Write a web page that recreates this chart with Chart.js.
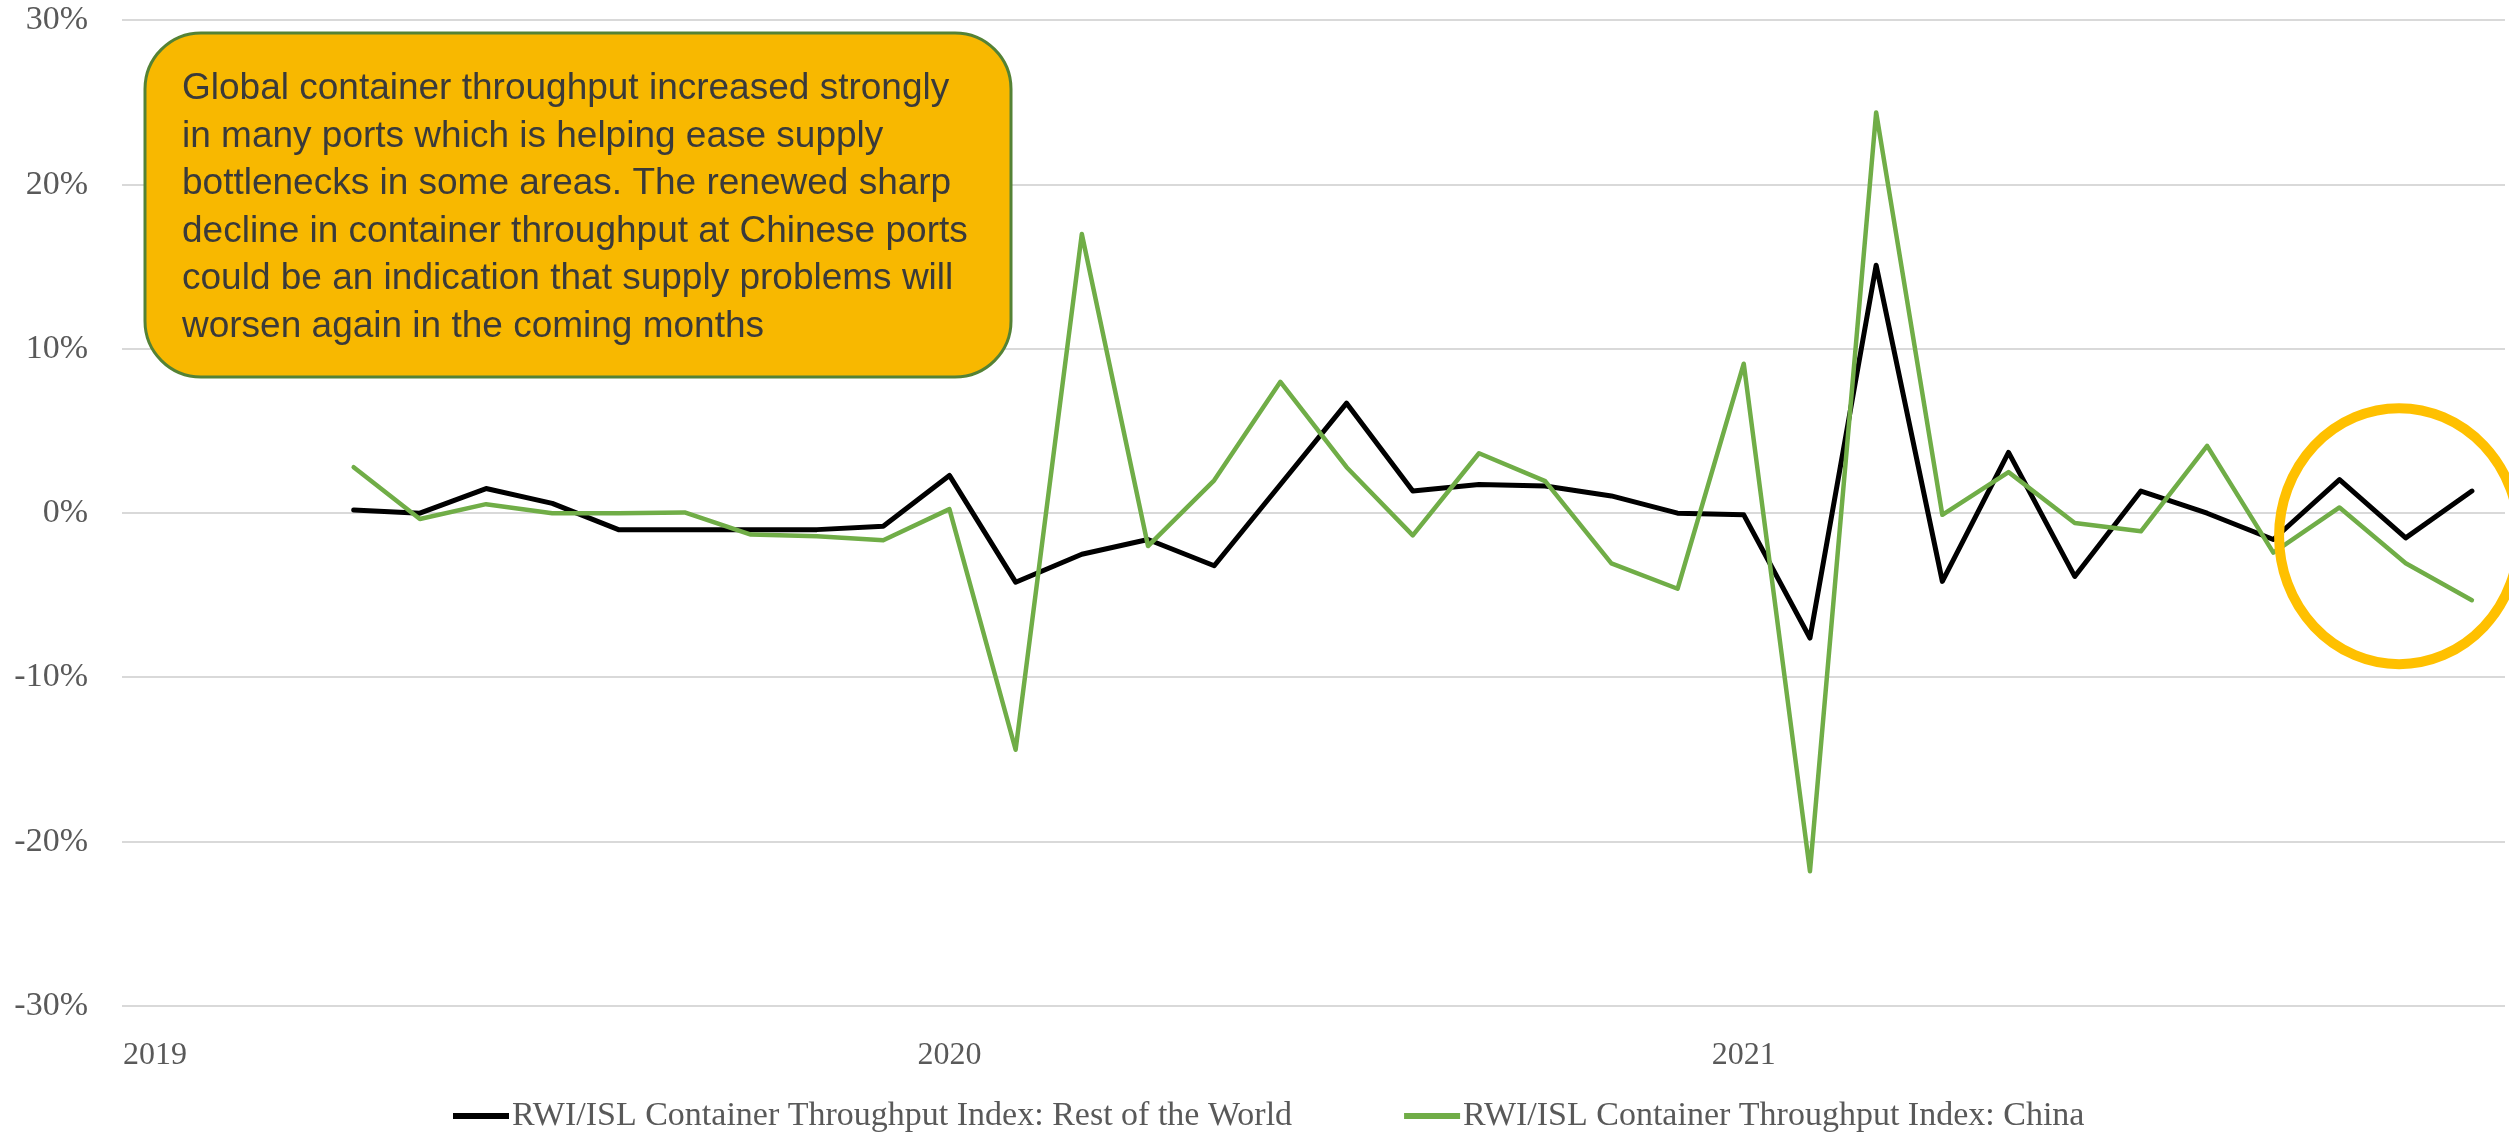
<!DOCTYPE html>
<html>
<head>
<meta charset="utf-8">
<script src="https://cdn.jsdelivr.net/npm/chart.js@4.4.0/dist/chart.umd.min.js"></script>
<style>
    html, body { margin: 0; padding: 0; background: #ffffff; overflow: hidden; }
    #wrap { width: 2509px; height: 1134px; }
</style>
</head>
<body>
<div id="wrap"><canvas id="throughputChart" width="2509" height="1134"></canvas></div>
<script>
// Monthly categories, Jan 2019 - Dec 2021
const months = [
    'Jan 2019', 'Feb 2019', 'Mar 2019', 'Apr 2019', 'May 2019', 'Jun 2019',
    'Jul 2019', 'Aug 2019', 'Sep 2019', 'Oct 2019', 'Nov 2019', 'Dec 2019',
    'Jan 2020', 'Feb 2020', 'Mar 2020', 'Apr 2020', 'May 2020', 'Jun 2020',
    'Jul 2020', 'Aug 2020', 'Sep 2020', 'Oct 2020', 'Nov 2020', 'Dec 2020',
    'Jan 2021', 'Feb 2021', 'Mar 2021', 'Apr 2021', 'May 2021', 'Jun 2021',
    'Jul 2021', 'Aug 2021', 'Sep 2021', 'Oct 2021', 'Nov 2021', 'Dec 2021'
];
const yearTicks = ['2019', '2020', '2021'];

// Month-on-month change, %
const restOfWorld = [
    null, null, null, 0.2, 0.0, 1.5, 0.6, -1.0, -1.0, -1.0, -1.0, -0.8,
    2.3, -4.2, -2.5, -1.6, -3.2, 1.75, 6.7, 1.35, 1.75, 1.65, 1.05, 0.0,
    -0.1, -7.6, 15.1, -4.15, 3.7, -3.85, 1.35, 0.0, -1.6, 2.05, -1.5, 1.35
];
const china = [
    null, null, null, 2.8, -0.35, 0.55, 0.0, 0.0, 0.05, -1.3, -1.4, -1.65,
    0.25, -14.4, 17.0, -2.0, 2.0, 8.0, 2.8, -1.35, 3.65, 1.95, -3.05, -4.6,
    9.1, -21.8, 24.4, -0.1, 2.5, -0.6, -1.1, 4.1, -2.4, 0.35, -3.05, -5.3
];

const seriesNames = [
    'RWI/ISL Container Throughput Index: Rest of the World',
    'RWI/ISL Container Throughput Index: China'
];

const noteLines = [
    'Global container throughput increased strongly',
    'in many ports which is helping ease supply',
    'bottlenecks in some areas. The renewed sharp',
    'decline in container throughput at Chinese ports',
    'could be an indication that supply problems will',
    'worsen again in the coming months'
];

const serif = 'Liberation Serif, Times New Roman, serif';
const sans = 'Liberation Sans, Arial, sans-serif';
const axisGrey = '#595959';

// note box, highlight ring and legend drawn on top of the chart
const overlayPlugin = {
    id: 'overlay',
    afterDraw(chart) {
        const ctx = chart.ctx;
        const xs = chart.scales.x, ys = chart.scales.y;

        // rounded note box
        ctx.save();
        ctx.beginPath();
        ctx.roundRect(145, 33, 866, 344, 56);
        ctx.fillStyle = '#F8B800';
        ctx.fill();
        ctx.lineWidth = 3;
        ctx.strokeStyle = '#548235';
        ctx.stroke();
        ctx.fillStyle = '#3a3a3a';
        ctx.font = '37px ' + sans;
        ctx.textBaseline = 'alphabetic';
        noteLines.forEach((line, i) => ctx.fillText(line, 182, 99 + i * 47.6));
        ctx.restore();

        // yellow ring around the last months
        ctx.save();
        ctx.beginPath();
        ctx.ellipse(xs.getPixelForValue(33.9), ys.getPixelForValue(-1.4), 120, 128, 0, 0, Math.PI * 2);
        ctx.lineWidth = 10;
        ctx.strokeStyle = '#FFC000';
        ctx.stroke();
        ctx.restore();

        // legend
        ctx.save();
        ctx.font = '34px ' + serif;
        ctx.textBaseline = 'middle';
        let x = 453;
        const y = 1116;
        chart.data.datasets.forEach((ds) => {
            ctx.fillStyle = ds.borderColor;
            ctx.fillRect(x, y - 3, 56, 6);
            ctx.fillStyle = axisGrey;
            ctx.fillText(ds.label, x + 59, y);
            x += 59 + ctx.measureText(ds.label).width + 112;
        });
        ctx.restore();
    }
};

const chart = new Chart(document.getElementById('throughputChart'), {
    type: 'line',
    data: {
        labels: months,
        datasets: [{
            label: seriesNames[0],
            data: restOfWorld,
            borderColor: '#000000',
            backgroundColor: '#000000',
            borderWidth: 5,
            order: 1
        }, {
            label: seriesNames[1],
            data: china,
            borderColor: '#70AD47',
            backgroundColor: '#70AD47',
            borderWidth: 4.5,
            order: 0
        }]
    },
    options: {
        responsive: false,
        animation: false,
        devicePixelRatio: 1,
        layout: { padding: { top: 0, right: 4, bottom: 0, left: 0 } },
        elements: {
            point: { radius: 0 },
            line: { tension: 0, borderJoinStyle: 'round', borderCapStyle: 'round' }
        },
        plugins: {
            legend: { display: false },
            tooltip: { enabled: false }
        },
        scales: {
            x: {
                offset: true,
                grid: { display: false },
                border: { display: false },
                ticks: {
                    autoSkip: false,
                    maxRotation: 0,
                    padding: 22,
                    color: axisGrey,
                    font: { family: serif, size: 32 },
                    callback: (v, i) => (i % 12 === 0 ? yearTicks[i / 12] : '')
                },
                afterFit: (s) => { s.height = 128; }
            },
            y: {
                min: -30,
                max: 30,
                grid: { color: '#D9D9D9', lineWidth: 2, drawTicks: true, tickLength: 34, tickColor: 'rgba(0,0,0,0)' },
                border: { display: false },
                ticks: {
                    stepSize: 10,
                    padding: 0,
                    color: axisGrey,
                    font: { family: serif, size: 34 },
                    callback: (v) => v + '%'
                },
                afterFit: (s) => { s.width = 122; }
            }
        }
    },
    plugins: [overlayPlugin]
});
</script>
</body>
</html>
